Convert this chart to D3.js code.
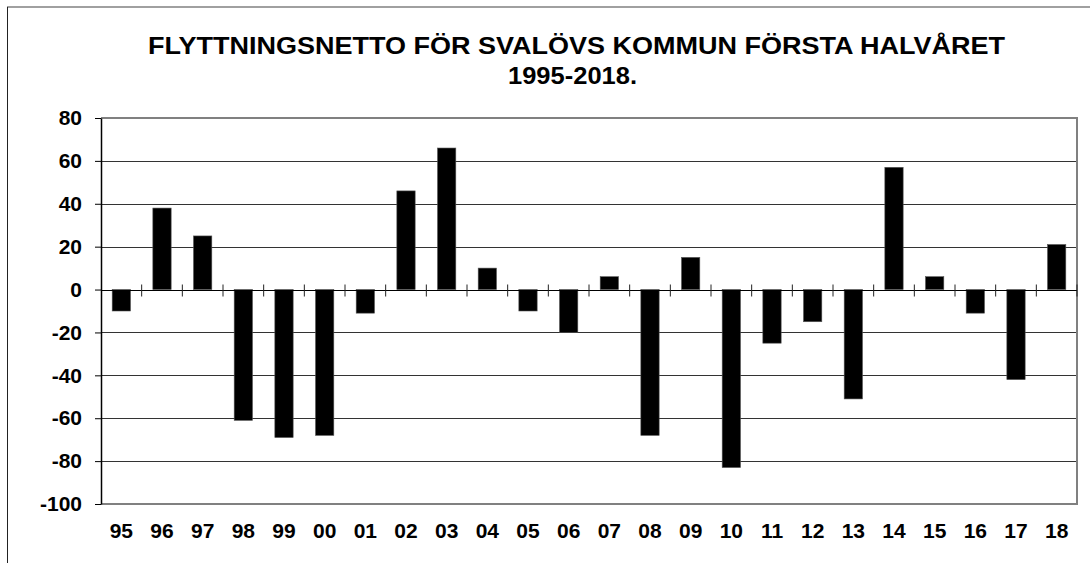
<!DOCTYPE html>
<html>
<head>
<meta charset="utf-8">
<script src="https://cdn.jsdelivr.net/npm/d3@7"></script>
<style>
  body { margin: 0; background: #fff; }
  text { font-family: Arial, "Liberation Sans", sans-serif; font-weight: bold; fill: #000; }
</style>
</head>
<body>
<div id="chart"></div>
<script>
// data
var years = ['95','96','97','98','99','00','01','02','03','04','05','06',
             '07','08','09','10','11','12','13','14','15','16','17','18'];
var netto = [-10, 38, 25, -61, -69, -68, -11, 46, 66, 10, -10, -20,
             6, -68, 15, -83, -25, -15, -51, 57, 6, -11, -42, 21];
var yTicks = [80, 60, 40, 20, 0, -20, -40, -60, -80, -100];
var titleLines = ['FLYTTNINGSNETTO FÖR SVALÖVS KOMMUN FÖRSTA HALVÅRET', '1995-2018.'];

var W = 1090, H = 563;
var plot = {left: 101, right: 1077, top: 118, bottom: 504};

var svg = d3.select('#chart').append('svg')
	.attr('width', W)
	.attr('height', H);

// outer frame (runs off the right and bottom of the picture)
svg.append('line').attr('x1', 7).attr('x2', W).attr('y1', 7).attr('y2', 7)
	.attr('stroke', '#808080').attr('stroke-width', 1.5);
svg.append('line').attr('x1', 7.5).attr('x2', 7.5).attr('y1', 7).attr('y2', H)
	.attr('stroke', '#222').attr('stroke-width', 1);

// title
svg.selectAll('text.title')
	.data(titleLines)
	.enter().append('text')
	.attr('class', 'title')
	.attr('x', (d, i) => i == 0 ? 576.5 : 572.5)
	.attr('y', (d, i) => 54 + i * 30)
	.attr('text-anchor', 'middle')
	.attr('font-size', '23px')
	.attr('textLength', (d, i) => i == 0 ? 857 : 129)
	.attr('lengthAdjust', 'spacingAndGlyphs')
	.text(d => d);

var x = d3.scaleBand()
	.domain(years)
	.range([plot.left, plot.right])
	.padding(0);

var y = d3.scaleLinear()
	.domain([-100, 80])
	.range([plot.bottom, plot.top]);

// gridlines
svg.append('g')
	.selectAll('line')
	.data(yTicks.filter(v => v != -100 && v != 80 && v != 0))
	.enter().append('line')
	.attr('x1', plot.left).attr('x2', plot.right)
	.attr('y1', d => Math.round(y(d)) + 0.5)
	.attr('y2', d => Math.round(y(d)) + 0.5)
	.attr('stroke', '#333')
	.attr('stroke-width', 1.2);

// plot border: top, right, bottom grey
svg.append('path')
	.attr('d', 'M' + plot.left + ',' + plot.top + 'H' + plot.right + 'V' + plot.bottom + 'H' + plot.left)
	.attr('fill', 'none')
	.attr('stroke', '#808080')
	.attr('stroke-width', 2);

// bars
var bw = x.bandwidth() * 0.45;
svg.append('g')
	.selectAll('rect')
	.data(netto)
	.enter().append('rect')
	.attr('x', (d, i) => x(years[i]) + (x.bandwidth() - bw) / 2)
	.attr('y', d => y(Math.max(0, d)))
	.attr('width', bw)
	.attr('height', d => Math.abs(y(d) - y(0)))
	.attr('fill', '#000')
	.attr('stroke', '#555')
	.attr('stroke-width', 0.6);

// zero line with category ticks
var y0 = Math.round(y(0)) + 0.5;
svg.append('line')
	.attr('x1', plot.left).attr('x2', plot.right)
	.attr('y1', y0).attr('y2', y0)
	.attr('stroke', '#000').attr('stroke-width', 1.2);
var bounds = years.map(d => x(d)).concat([plot.right]);
svg.append('g')
	.selectAll('line')
	.data(bounds.slice(1))
	.enter().append('line')
	.attr('x1', d => d).attr('x2', d => d)
	.attr('y1', y0 - 6).attr('y2', y0 + 6)
	.attr('stroke', '#222').attr('stroke-width', 1);

// y axis
var yAxis = svg.append('g')
	.attr('transform', 'translate(' + plot.left + ',0)')
	.call(d3.axisLeft(y).tickValues(yTicks).tickFormat(d => String(d))
		.tickSize(6).tickPadding(13).tickSizeOuter(0));
yAxis.select('.domain').attr('stroke', '#000').attr('stroke-width', 1.5);
yAxis.selectAll('.tick line').attr('stroke', '#000');
yAxis.selectAll('.tick text')
	.attr('font-family', 'Arial, "Liberation Sans", sans-serif')
	.attr('font-weight', 'bold')
	.attr('font-size', '21px')
	.attr('fill', '#000');

// category labels
svg.append('g')
	.selectAll('text')
	.data(years)
	.enter().append('text')
	.attr('x', d => x(d) + x.bandwidth() / 2)
	.attr('y', 538)
	.attr('text-anchor', 'middle')
	.attr('font-size', '21px')
	.text(d => d);
</script>
</body>
</html>
